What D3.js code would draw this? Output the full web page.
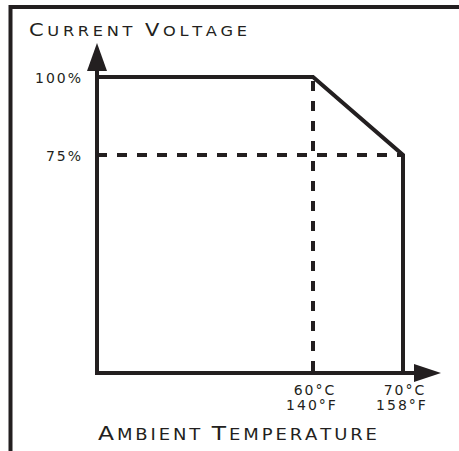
<!DOCTYPE html>
<html>
<head>
<meta charset="utf-8">
<script src="https://cdn.jsdelivr.net/npm/d3@7"></script>
<style>
  body { margin: 0; background: #fff; }
  text { font-family: "DejaVu Sans", sans-serif; fill: #231f20; }
</style>
</head>
<body>
<div id="plot_area"></div>
<script>
// derating curve: temperature (°C) vs current voltage (%)
var tempC    = [36, 60, 70, 70]
var voltage  = [100, 100, 75, 5]
var xTicksC  = ["60°C", "70°C"]
var xTicksF  = ["140°F", "158°F"]
var xTickVal = [60, 70]
var yTickVal = [100, 75]
var yTicks   = ["100%", "75%"]
var xTitle   = "Ambient Temperature"
var yTitle   = "Current Voltage"

var width = 459, height = 451
var ink = "#231f20"

var svg = d3.select("#plot_area")
  .append("svg")
    .attr("width", width)
    .attr("height", height)

// scales (chart is schematic, floor of axes at 36°C / 5%)
var x = d3.scaleLinear().domain([36, 70]).range([97, 403])
var y = d3.scaleLinear().domain([5, 100]).range([373, 77])

var x0 = x(36), y0 = y(5)

// outer frame (only left and top visible)
svg.append("path")
  .attr("d", "M10.5," + height + "V7H" + width)
  .attr("fill", "none")
  .attr("stroke", ink)
  .attr("stroke-width", 4)

// dashed guide lines
svg.append("line")
  .attr("x1", x0).attr("x2", x(70))
  .attr("y1", y(75)).attr("y2", y(75))
  .attr("stroke", ink).attr("stroke-width", 4)
  .attr("stroke-dasharray", "10,10")
svg.append("line")
  .attr("x1", x(60)).attr("x2", x(60))
  .attr("y1", y(100)).attr("y2", y0)
  .attr("stroke", ink).attr("stroke-width", 4)
  .attr("stroke-dasharray", "10,10")
  .attr("stroke-dashoffset", -4)

// axes with arrowheads
svg.append("line")
  .attr("x1", x0).attr("x2", x0)
  .attr("y1", y0 + 2).attr("y2", 60)
  .attr("stroke", ink).attr("stroke-width", 4)
svg.append("line")
  .attr("x1", x0 - 2).attr("x2", 425)
  .attr("y1", y0).attr("y2", y0)
  .attr("stroke", ink).attr("stroke-width", 4)

svg.append("path")
  .attr("d", "M" + x0 + ",43L" + (x0 + 10) + ",71L" + (x0 - 10) + ",71Z")
  .attr("fill", ink)
svg.append("path")
  .attr("d", "M441," + y0 + "L414," + (y0 - 9) + "L414," + (y0 + 9) + "Z")
  .attr("fill", ink)

// the curve
var pts = tempC.map(function(t, i) { return [t, voltage[i]] })
svg.append("path")
  .datum(pts)
  .attr("d", d3.line().x(function(d) { return x(d[0]) }).y(function(d) { return y(d[1]) }))
  .attr("fill", "none")
  .attr("stroke", ink)
  .attr("stroke-width", 4)
  .attr("stroke-linejoin", "miter")

// y tick labels
svg.selectAll(".ylab")
  .data(yTickVal)
  .enter()
  .append("text")
    .attr("class", "ylab")
    .attr("x", 83)
    .attr("y", function(d) { return y(d) + 6 })
    .attr("text-anchor", "end")
    .style("font-size", "14px")
    .style("letter-spacing", "2px")
    .text(function(d, i) { return yTicks[i] })

// x tick labels (two lines)
svg.selectAll(".xlabC")
  .data(xTickVal)
  .enter()
  .append("text")
    .attr("class", "xlabC")
    .attr("x", function(d) { return x(d) + 2 })
    .attr("y", 395)
    .attr("text-anchor", "middle")
    .style("font-size", "14px")
    .style("letter-spacing", "2px")
    .text(function(d, i) { return xTicksC[i] })
svg.selectAll(".xlabF")
  .data(xTickVal)
  .enter()
  .append("text")
    .attr("class", "xlabF")
    .attr("x", function(d) { return x(d) - 1 })
    .attr("y", 410)
    .attr("text-anchor", "middle")
    .style("font-size", "14px")
    .style("letter-spacing", "2px")
    .text(function(d, i) { return xTicksF[i] })

// axis titles in hand-made small caps, widened a bit to look like the original face
var stretch = 1.2
function smallCaps(txt, tx, ty, big, small, len) {
  var t = svg.append("text")
    .attr("transform", "translate(" + tx + "," + ty + ") scale(" + stretch + ",1)")
    .attr("textLength", len / stretch)
    .attr("lengthAdjust", "spacing")
  txt.split("").forEach(function(ch, i) {
    var first = i == 0 || txt[i - 1] == " "
    t.append("tspan")
      .style("font-size", (first ? big : small) + "px")
      .text(ch.toUpperCase())
  })
}
smallCaps(yTitle, 29, 36, 17.5, 13.5, 218)
smallCaps(xTitle, 98, 440, 19.5, 15, 279)
</script>
</body>
</html>
